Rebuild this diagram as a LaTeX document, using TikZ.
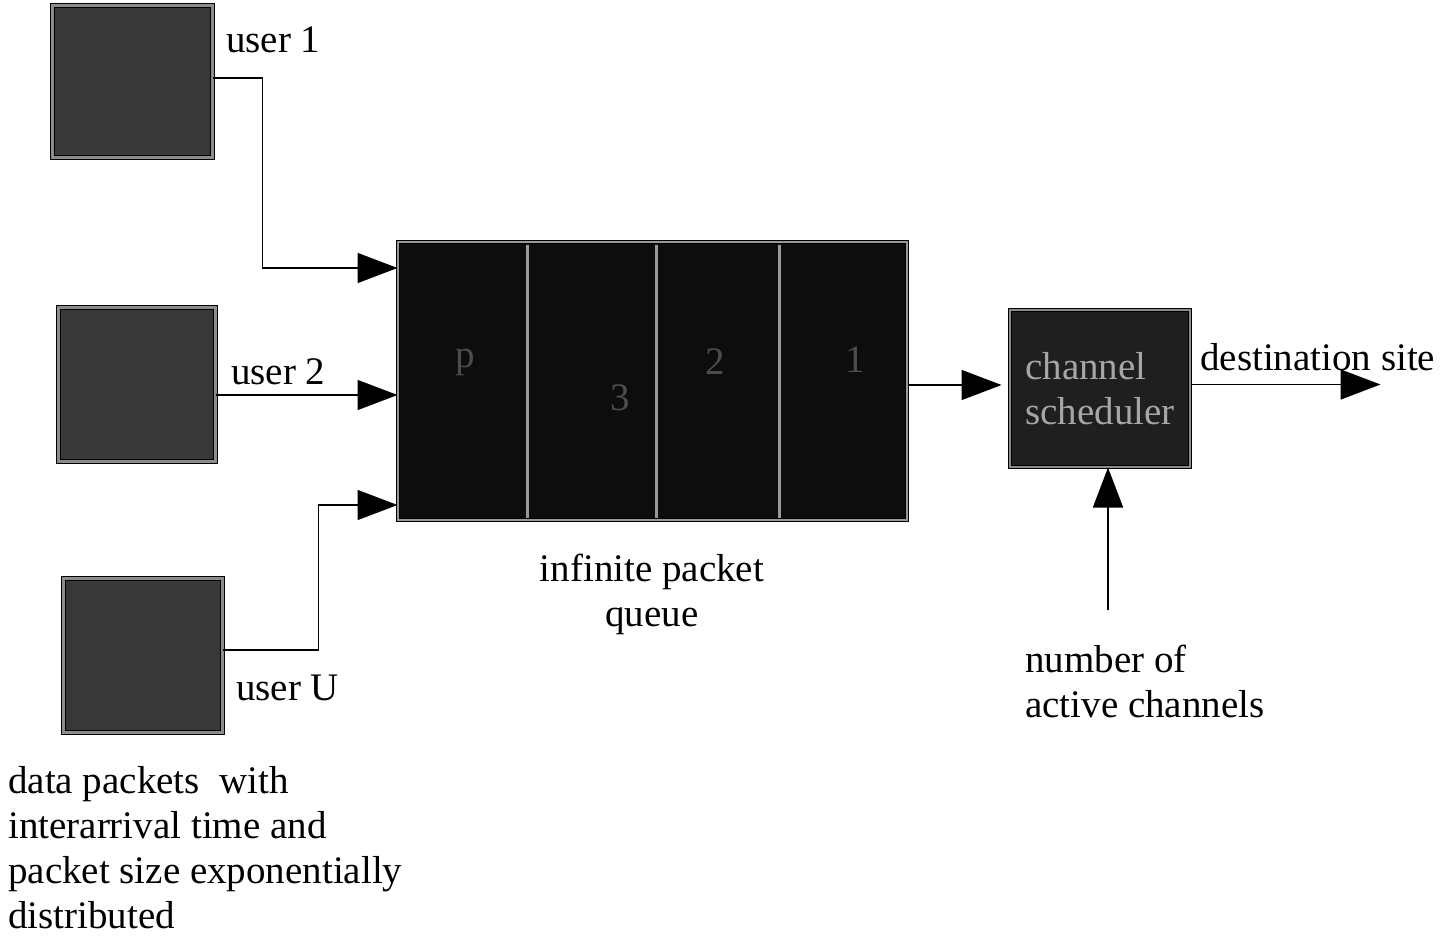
\documentclass[tikz,border=0pt]{standalone}
\usepackage{fontspec}
\setmainfont{Liberation Serif}
\usetikzlibrary{arrows.meta}

\begin{document}
\begin{tikzpicture}[x=1pt,y=-1pt,
    font=\fontsize{39}{45}\selectfont,
    userbox/.style={rectangle,draw=black,line width=1pt,double=black!45,double distance=3pt,fill=black!78},
    queuebox/.style={rectangle,draw=black,line width=1pt,double=black!40,double distance=2pt,fill=black!95,minimum width=509pt,minimum height=278pt},
    schedbox/.style={rectangle,draw=black,line width=1pt,double=black!45,double distance=2pt,fill=black!88,text=black!35,align=left,minimum width=180pt,minimum height=157pt,inner sep=0pt},
    divider/.style={draw=black!40,line width=2.5pt},
    celltext/.style={text=black!70,inner sep=0pt},
    lbl/.style={inner sep=0pt,align=left},
    flow/.style={-{Triangle[length=40pt,width=30pt]},line width=1.6pt}]
\useasboundingbox (0,0) rectangle (1450,936);

% sources
\node[userbox,minimum width=160pt,minimum height=152pt] (u1) at (132,82){};
\node[userbox,minimum width=157pt,minimum height=154pt] (u2) at (136.5,384){};
\node[userbox,minimum width=159pt,minimum height=154pt] (uU) at (142.5,655){};

\node[lbl,anchor=west] (l1) at (226,40){user 1};
\node[lbl,anchor=west] (l2) at (231,372){user 2};
\node[lbl,anchor=west] (lU) at (236,688){user U};

% queue
\node[queuebox] (queue) at (652.5,381){};
\foreach \x in {130,259,382}
  \draw[divider] ([xshift=\x pt,yshift=-3pt]queue.north west) -- ([xshift=\x pt,yshift=3pt]queue.south west);
\node[celltext] (cp) at (465,362){p};
\node[celltext] (c3) at (620,398){3};
\node[celltext] (c2) at (715,362){2};
\node[celltext] (c1) at (855,360){1};
\node[lbl,align=center] (lq) at (652,594){infinite packet\\queue};

% scheduler
\node[schedbox] (sched) at (1100,388.5){channel\\scheduler};
\coordinate (dest) at ([xshift=190pt]sched.east);
\coordinate (chan) at (1108,610);
\node[lbl,anchor=west] (ld) at (1200,357){destination site};
\node[lbl,anchor=north west] (lc) at (1025,645){number of\\active channels};

\node[lbl,anchor=north west] (lp) at (8,766){data packets\ \ with\\interarrival time and\\packet size exponentially\\distributed};

% connectors
\draw[flow] ([yshift=4pt]u1.east) -- ++(50,0) |- ([yshift=113pt]queue.west);
\draw[flow] ([yshift=-11pt]u2.east) -- ([yshift=-11pt]u2.east -| queue.west);
\draw[flow] ([yshift=5pt]uU.east) -- ++(96,0) |- ([yshift=-124pt]queue.west);
\draw[flow,shorten >=8pt] ([yshift=-4pt]queue.east) -- ([yshift=-4pt]queue.east -| sched.west);
\draw[flow] ([yshift=4pt]sched.east) -- ([yshift=4pt]dest);
\draw[flow] (chan) -- (chan |- sched.south);
\end{tikzpicture}
\end{document}
